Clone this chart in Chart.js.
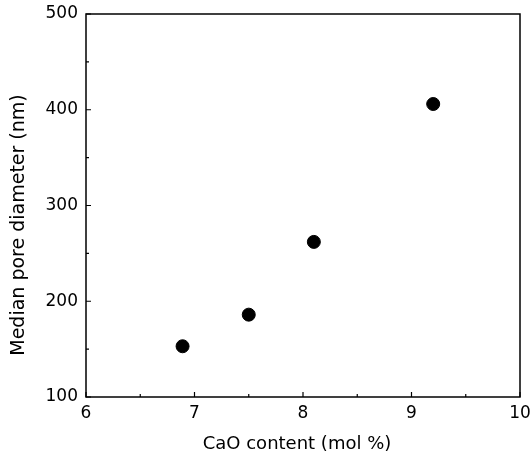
<!DOCTYPE html>
<html>
<head>
<meta charset="utf-8">
<script src="https://cdn.jsdelivr.net/npm/chart.js@4"></script>
<style>
html,body{margin:0;padding:0;background:#fff;}
#wrap{width:532px;height:455px;}
</style>
</head>
<body>
<div id="wrap"><canvas id="c" width="532" height="455"></canvas></div>
<script>
const cao = [6.89, 7.50, 8.10, 9.20];
const poreDiameter = [153, 186, 262, 406];
const xTicks = [6, 7, 8, 9, 10];
const yTicks = [100, 200, 300, 400, 500];
const xTitle = 'CaO content (mol %)';
const yTitle = 'Median pore diameter (nm)';

const FONT = 'DejaVu Sans';

const framePlugin = {
  id: 'frame',
  afterDraw(chart) {
    const ctx = chart.ctx, a = chart.chartArea;
    const xs = chart.scales.x, ys = chart.scales.y;
    ctx.save();
    ctx.strokeStyle = '#000';
    ctx.lineWidth = 1.5;
    ctx.strokeRect(a.left, a.top, a.right - a.left, a.bottom - a.top);
    ctx.lineWidth = 1.2;
    ctx.beginPath();
    for (let v = xs.min; v <= xs.max + 1e-9; v += 0.5) {
      const px = xs.getPixelForValue(v);
      const len = Math.abs(v - Math.round(v)) < 1e-6 ? 5 : 3;
      ctx.moveTo(px, a.bottom); ctx.lineTo(px, a.bottom - len);
    }
    for (let v = ys.min; v <= ys.max + 1e-9; v += 50) {
      const py = ys.getPixelForValue(v);
      const len = (v % 100 === 0) ? 5 : 3;
      ctx.moveTo(a.left, py); ctx.lineTo(a.left + len, py);
    }
    ctx.stroke();
    ctx.fillStyle = '#000';
    ctx.font = '18px "' + FONT + '"';
    ctx.textAlign = 'center';
    ctx.textBaseline = 'middle';
    ctx.fillText(xTitle, 297, 444);
    ctx.font = '19px "' + FONT + '"';
    ctx.translate(19, 225);
    ctx.rotate(-Math.PI / 2);
    ctx.fillText(yTitle, 0, 0);
    ctx.restore();
  }
};

new Chart(document.getElementById('c'), {
  type: 'scatter',
  data: {
    datasets: [{
      data: cao.map((x, i) => ({ x: x, y: poreDiameter[i] })),
      backgroundColor: '#000',
      borderColor: '#000',
      pointRadius: 6.5,
      pointHoverRadius: 6.5
    }]
  },
  options: {
    responsive: false,
    animation: false,
    devicePixelRatio: 1,
    layout: { padding: { left: 0, top: 14, right: 12, bottom: 0 } },
    plugins: { legend: { display: false }, tooltip: { enabled: false } },
    scales: {
      x: {
        type: 'linear', min: 6, max: 10,
        afterFit(s) { s.height = 58; s.paddingLeft = 0; s.paddingRight = 0; },
        afterBuildTicks(s) { s.ticks = xTicks.map(v => ({ value: v })); },
        grid: { display: false, drawTicks: false },
        border: { display: false },
        ticks: { color: '#000', padding: 6, font: { family: FONT, size: 17 } },
        title: { display: false }
      },
      y: {
        type: 'linear', min: 100, max: 500,
        afterFit(s) { s.width = 86; s.paddingTop = 0; s.paddingBottom = 0; },
        afterBuildTicks(s) { s.ticks = yTicks.map(v => ({ value: v })); },
        grid: { display: false, drawTicks: false },
        border: { display: false },
        ticks: { color: '#000', padding: 8, font: { family: FONT, size: 17 } },
        title: { display: false }
      }
    }
  },
  plugins: [framePlugin]
});
</script>
</body>
</html>
